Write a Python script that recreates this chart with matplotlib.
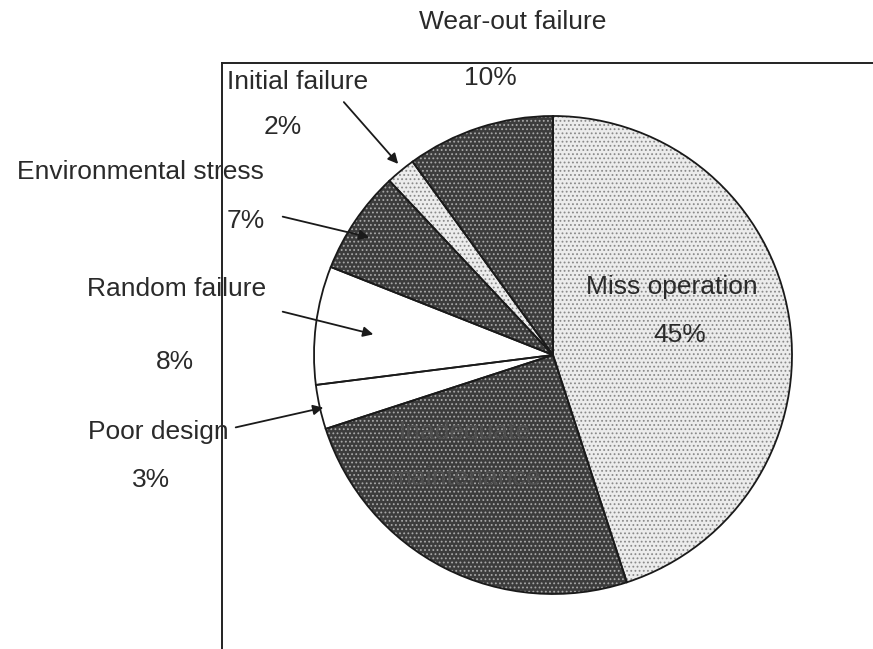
import matplotlib
matplotlib.use("Agg")
import matplotlib.pyplot as plt

# causes of failure, clockwise from 12 o'clock
causes = ["Miss operation", "Inadequate maintenance", "Poor design", "Random failure",
          "Environmental stress", "Initial failure", "Wear-out failure"]
shares = [45, 25, 3, 8, 7, 2, 10]
shading = ["light", "dark", "white", "white", "dark", "light", "dark"]

plt.rcParams["font.family"] = ["Liberation Sans", "DejaVu Sans"]
plt.rcParams["hatch.linewidth"] = 0.8

fills = {"light": ("#ececec", "#8a8a8a"),
         "dark": ("#3c3c3c", "#a8a8a8"),
         "white": ("#ffffff", "#ffffff")}
face = [fills[s][0] for s in shading]
dots = [fills[s][1] for s in shading]

fig = plt.figure(figsize=(8.73, 6.49), dpi=100)
ax = fig.add_axes([0, 0, 1, 1])
ax.axis("off")

centre = (553, 355)
radius = 239

# stippled fill (hatch takes the edge colour, so draw it without edges first)
wedges, _ = ax.pie(shares, colors=face, startangle=-90, counterclock=True,
                   center=centre, radius=radius, frame=False,
                   wedgeprops=dict(linewidth=0))
for w, c, s in zip(wedges, dots, shading):
    if s != "white":
        w.set_hatch("....")
        w.set_edgecolor(c)
# outlines
ax.pie(shares, startangle=-90, counterclock=True, center=centre, radius=radius,
       frame=False, wedgeprops=dict(fill=False, edgecolor="#1a1a1a", linewidth=1.3))
ax.set_xlim(0, 873)
ax.set_ylim(649, 0)   # pixel-like coords, y down

# frame of the original scan
ax.plot([222, 222], [63, 649], color="#222222", lw=1.4)
ax.plot([222, 873], [63, 63], color="#222222", lw=1.4)

fs = 19
tc = "#2a2a2a"
ax.text(513, 22, "Wear-out failure", fontsize=fs, color=tc, ha="center", va="center")
ax.text(490, 78, "10%", fontsize=fs, color=tc, ha="center", va="center")
ax.text(298, 82, "Initial failure", fontsize=fs, color=tc, ha="center", va="center")
ax.text(283, 127, "2%", fontsize=fs, color=tc, ha="center", va="center")
ax.text(140, 172, "Environmental stress", fontsize=fs, color=tc, ha="center", va="center")
ax.text(246, 221, "7%", fontsize=fs, color=tc, ha="center", va="center")
ax.text(177, 289, "Random failure", fontsize=fs, color=tc, ha="center", va="center")
ax.text(175, 362, "8%", fontsize=fs, color=tc, ha="center", va="center")
ax.text(158, 432, "Poor design", fontsize=fs, color=tc, ha="center", va="center")
ax.text(151, 480, "3%", fontsize=fs, color=tc, ha="center", va="center")
ax.text(672, 287, "Miss operation", fontsize=fs, color=tc, ha="center", va="center")
ax.text(680, 335, "45%", fontsize=fs, color=tc, ha="center", va="center")
# hardly readable on the dark slice
ax.text(465, 432, "Inadequate", fontsize=fs, color="#4e4e4e", ha="center", va="center")
ax.text(465, 478, "maintenance", fontsize=fs, color="#4e4e4e", ha="center", va="center")

arrow = dict(arrowstyle="-|>", color="#1a1a1a", lw=1.3, mutation_scale=15)
ax.annotate("", xy=(400, 166), xytext=(342, 100), arrowprops=arrow)
ax.annotate("", xy=(372, 238), xytext=(280, 216), arrowprops=arrow)
ax.annotate("", xy=(376, 335), xytext=(280, 311), arrowprops=arrow)
ax.annotate("", xy=(326, 407), xytext=(233, 428), arrowprops=arrow)

fig.savefig("out.png", dpi=100)
